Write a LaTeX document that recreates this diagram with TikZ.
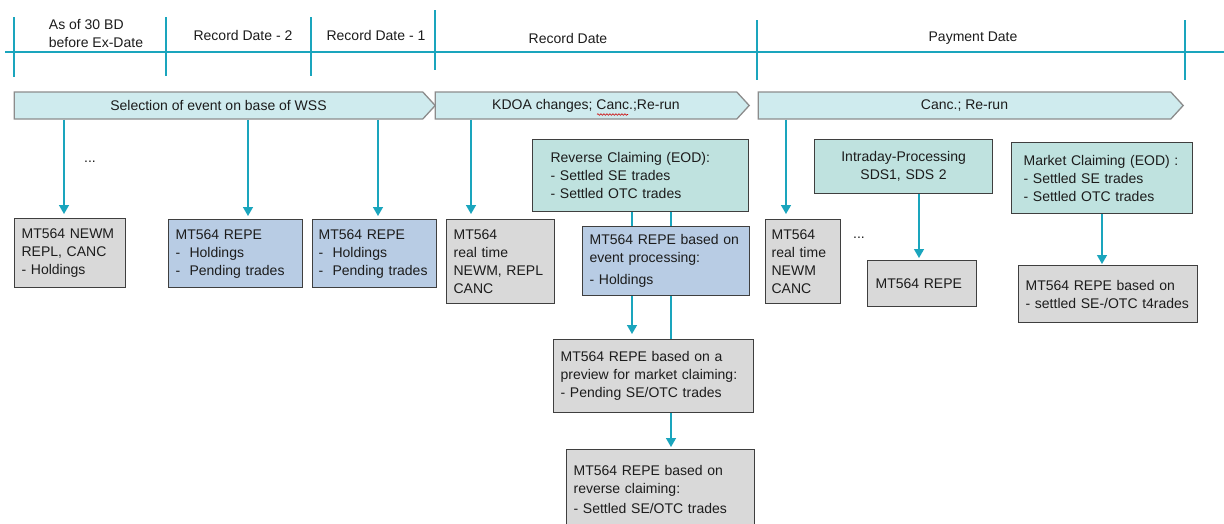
\documentclass[tikz,border=0pt]{standalone}
\usepackage{fontspec}
\setmainfont{Liberation Sans}
\usetikzlibrary{shapes.symbols,arrows.meta,backgrounds,decorations.pathmorphing}
\definecolor{tline}{HTML}{1AA5BD}
\definecolor{barfill}{HTML}{CFEBEE}
\definecolor{barborder}{HTML}{8C8C8C}
\definecolor{tealbox}{HTML}{BFE2DF}
\definecolor{bluebox}{HTML}{B8CCE4}
\definecolor{graybox}{HTML}{D9D9D9}
\definecolor{boxborder}{HTML}{3F3F3F}
\definecolor{txt}{HTML}{1C1C1C}
\newcommand{\fs}{\fontsize{14}{18}\selectfont}
\tikzset{
  tl/.style={draw=tline, line width=2.6pt},
  lbl/.style={font=\fs, text=txt, inner sep=0pt},
  bar/.style={shape=signal, signal to=east, signal from=nowhere, signal pointer angle=95,
    draw=barborder, fill=barfill, line width=1.3pt, minimum height=27pt, inner sep=0pt,
    font=\fs, text=txt},
  box/.style={draw=boxborder, line width=1.2pt, anchor=north west, inner xsep=7pt,
    inner ysep=0pt, align=left, font=\fs, text=txt},
  gbox/.style={box, fill=graybox},
  bbox/.style={box, fill=bluebox},
  tbox/.style={box, fill=tealbox},
  arr/.style={draw=tline, line width=1.4pt, -{Triangle[width=10pt,length=9pt]}},
}
\begin{document}
\begin{tikzpicture}[x=1pt,y=-1pt]
\useasboundingbox (0,0) rectangle (1224,523);
\clip (0,0) rectangle (1224,523);
% timeline
\draw[tl] (5,52) -- (1224,52);
\draw[tl] (14,17) -- (14,77);
\draw[tl] (166,17) -- (166,76);
\draw[tl] (311,17) -- (311,76);
\draw[tl] (435,10) -- (435,70);
\draw[tl] (757,20) -- (757,80);
\draw[tl] (1185,20) -- (1185,80);
\node[lbl, align=left] (l0) at (96,33) {As of 30 BD\\before Ex-Date};
\node[lbl] (l1) at (243,35) {Record Date - 2};
\node[lbl] (l2) at (376,35) {Record Date - 1};
\node[lbl] (l3) at (568,38) {Record Date};
\node[lbl] (l4) at (973,38) {Payment Date};
% bars
\node[bar, minimum width=421pt] (bar1) at (218.5,105.5) {Selection of event on base of WSS};
\node[bar, minimum width=314pt] (bar2) at (586,105.5) {KDOA changes; Canc.;Re-run};
\node[bar, minimum width=425pt] (bar3) at (964.5,105.5) {Canc.; Re-run};
\draw[red!80!black, line width=0.6pt, decorate, decoration={snake, amplitude=0.8pt, segment length=3pt}] (597,114.5) -- (628,114.5);
% boxes
\node[gbox, minimum width=111pt, minimum height=69pt, text width=97pt] (g1) at (14,218)
  {MT564 NEWM\\REPL, CANC\\- Holdings};
\node[bbox, minimum width=134pt, minimum height=68pt, text width=120pt] (bx2) at (168,219)
  {MT564 REPE\\-\ \ Holdings\\-\ \ Pending trades};
\node[bbox, minimum width=124pt, minimum height=68pt, text width=112pt, inner xsep=6pt] (bx3) at (312,219)
  {MT564 REPE\\-\ \ Holdings\\-\ \ Pending trades};
\node[gbox, minimum width=108pt, minimum height=84pt, text width=94pt] (g2) at (446,219)
  {MT564\\real time\\NEWM, REPL\\CANC};
\node[tbox, minimum width=216pt, minimum height=72pt, text width=180pt, inner xsep=18pt] (rc) at (532,139)
  {Reverse Claiming (EOD):\\- Settled SE trades\\- Settled OTC trades};
\node[bbox, minimum width=167pt, minimum height=69pt, text width=153pt] (ev) at (582,226)
  {MT564 REPE based on\\event processing:\\[4pt]- Holdings};
\node[gbox, minimum width=200pt, minimum height=73pt, text width=186pt] (pv) at (553,339)
  {MT564 REPE based on a\\preview for market claiming:\\- Pending SE/OTC trades};
\node[gbox, minimum width=188pt, minimum height=80pt, text width=174pt] (rv) at (566,449)
  {MT564 REPE based on\\reverse claiming:\\[2pt]- Settled SE/OTC trades};
\node[gbox, minimum width=75pt, minimum height=84pt, text width=63pt, inner xsep=6pt] (g3) at (765,219)
  {MT564\\real time\\NEWM\\CANC};
\node[tbox, minimum width=178pt, minimum height=54pt, text width=164pt, align=center] (it) at (814,139)
  {Intraday-Processing\\SDS1, SDS 2};
\node[gbox, minimum width=109pt, minimum height=46pt, text width=93pt, inner xsep=8pt] (g4) at (867,260)
  {MT564 REPE};
\node[tbox, minimum width=181pt, minimum height=71pt, text width=157pt, inner xsep=12pt] (mc) at (1011,142)
  {Market Claiming (EOD) :\\- Settled SE trades\\- Settled OTC trades};
\node[gbox, minimum width=179pt, minimum height=57pt, text width=165pt] (g5) at (1018,265)
  {MT564 REPE based on\\- settled SE-/OTC t4rades};
% dots
\node[lbl] (d1) at (90,162) {...};
\node[lbl] (d2) at (859,238) {...};
% connector x positions
\coordinate (x1) at (64,0);
\coordinate (x2) at (248,0);
\coordinate (x3) at (378,0);
\coordinate (x4) at (471,0);
\coordinate (x5) at (786,0);
\coordinate (x6) at (919,0);
\coordinate (x7) at (1102,0);
\coordinate (x8) at (632,0);
\coordinate (x9) at (671,0);
\draw[arr, shorten >=4pt] (bar1.south -| x1) -- (g1.north -| x1);
\draw[arr, shorten >=3pt] (bar1.south -| x2) -- (bx2.north -| x2);
\draw[arr, shorten >=3pt] (bar1.south -| x3) -- (bx3.north -| x3);
\draw[arr, shorten >=5pt] (bar2.south -| x4) -- (g2.north -| x4);
\draw[arr, shorten >=5pt] (bar3.south -| x5) -- (g3.north -| x5);
\draw[arr, shorten >=2pt] (it.south -| x6) -- (g4.north -| x6);
\draw[arr, shorten >=1pt] (mc.south -| x7) -- (g5.north -| x7);
\begin{pgfonlayer}{background}
\draw[arr, shorten >=5pt] (rc.south -| x8) -- (pv.north -| x8);
\draw[arr, shorten >=2pt] (rc.south -| x9) -- (rv.north -| x9);
\end{pgfonlayer}
\end{tikzpicture}
\end{document}
